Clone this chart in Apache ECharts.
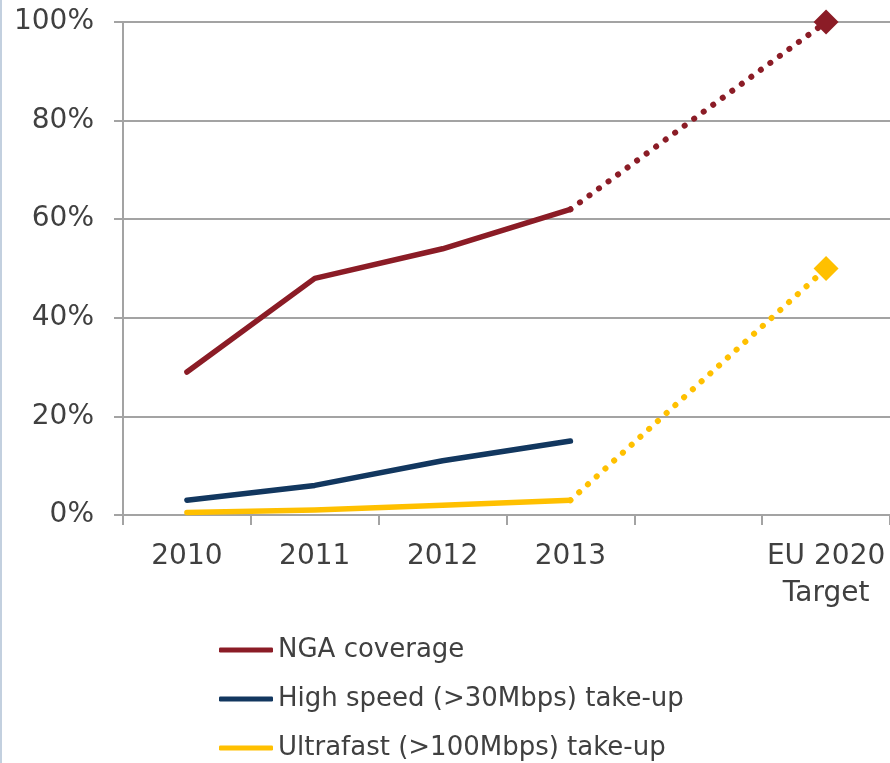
<!DOCTYPE html>
<html>
<head>
<meta charset="utf-8">
<script src="https://cdn.jsdelivr.net/npm/echarts@6/dist/echarts.min.js"></script>
<style>
  html, body { margin: 0; padding: 0; background: #ffffff; }
  #chart { width: 890px; height: 763px; }
</style>
</head>
<body>
<div id="chart"></div>
<script>
// Categories along the x axis (one empty slot before the target)
const categories = ['2010', '2011', '2012', '2013', '', 'EU 2020\nTarget'];

// Observed values, % (2010–2013)
const ngaCoverage = [29, 48, 54, 62, null, null];
const highSpeedTakeUp = [3, 6, 11, 15, null, null];
const ultrafastTakeUp = [0.5, 1, 2, 3, null, null];

// Projection from 2013 to the EU 2020 target, %
const ngaTarget = [null, null, null, 62, null, 100];
const ultrafastTarget = [null, null, null, 3, null, 50];

const yTicks = [0, 20, 40, 60, 80, 100];

const colors = {
  nga: '#8b1c26',
  high: '#12375f',
  ultra: '#ffc000'
};
const textColor = '#404040';
const gridColor = '#a3a3a3';
const fontFamily = '"DejaVu Sans", Verdana, sans-serif';

// Only the target point carries a diamond marker
function targetItems(arr) {
  return arr.map((v, i) => {
    if (v === null) return null;
    if (i === arr.length - 1) return { value: v, symbol: 'diamond', symbolSize: 25 };
    return { value: v, symbol: 'none' };
  });
}

function solidSeries(name, data, color) {
  return {
    name: name,
    type: 'line',
    data: data,
    symbol: 'none',
    lineStyle: { color: color, width: 5.5, cap: 'round', join: 'round' },
    itemStyle: { color: color },
    z: 3
  };
}

function dottedSeries(name, data, color) {
  return {
    name: name,
    type: 'line',
    data: targetItems(data),
    connectNulls: true,
    showAllSymbol: true,
    symbol: 'diamond',
    symbolSize: 25,
    lineStyle: { color: color, width: 6, type: [0.1, 11.7], cap: 'round' },
    itemStyle: { color: color },
    z: 3
  };
}

const chart = echarts.init(document.getElementById('chart'), null, { renderer: 'canvas' });

chart.setOption({
  animation: false,
  backgroundColor: '#ffffff',
  textStyle: { fontFamily: fontFamily },
  graphic: [{
    type: 'rect',
    shape: { x: 0, y: 0, width: 2, height: 763 },
    style: { fill: '#c3d0df' },
    silent: true
  }],
  grid: { left: 123, right: 0, top: 22, bottom: 248, containLabel: false },
  legend: {
    orient: 'vertical',
    left: 219,
    top: 637,
    height: 240,
    padding: 0,
    icon: 'roundRect',
    itemWidth: 54,
    itemHeight: 5,
    itemGap: 23,
    data: ['NGA coverage', 'High speed (>30Mbps) take-up', 'Ultrafast (>100Mbps) take-up'],
    textStyle: { color: textColor, fontSize: 26, lineHeight: 26, fontFamily: fontFamily }
  },
  xAxis: {
    type: 'category',
    data: categories,
    boundaryGap: true,
    axisLine: { lineStyle: { color: gridColor, width: 2 } },
    axisTick: { show: true, length: 10, lineStyle: { color: gridColor, width: 2 } },
    axisLabel: {
      interval: 0,
      color: textColor,
      fontSize: 28,
      lineHeight: 37,
      margin: 23,
      fontFamily: fontFamily
    },
    splitLine: { show: false }
  },
  yAxis: {
    type: 'value',
    min: 0,
    max: 100,
    interval: 20,
    axisLine: { show: true, lineStyle: { color: gridColor, width: 2 } },
    axisTick: { show: true, length: 9, inside: false, lineStyle: { color: gridColor, width: 2 } },
    axisLabel: {
      color: textColor,
      fontSize: 28,
      margin: 29,
      fontFamily: fontFamily,
      formatter: v => (yTicks.includes(v) ? v + '%' : '')
    },
    splitLine: { show: true, lineStyle: { color: gridColor, width: 2 } }
  },
  series: [
    solidSeries('NGA coverage', ngaCoverage, colors.nga),
    solidSeries('High speed (>30Mbps) take-up', highSpeedTakeUp, colors.high),
    solidSeries('Ultrafast (>100Mbps) take-up', ultrafastTakeUp, colors.ultra),
    dottedSeries('NGA coverage target', ngaTarget, colors.nga),
    dottedSeries('Ultrafast take-up target', ultrafastTarget, colors.ultra)
  ]
});
</script>
</body>
</html>
